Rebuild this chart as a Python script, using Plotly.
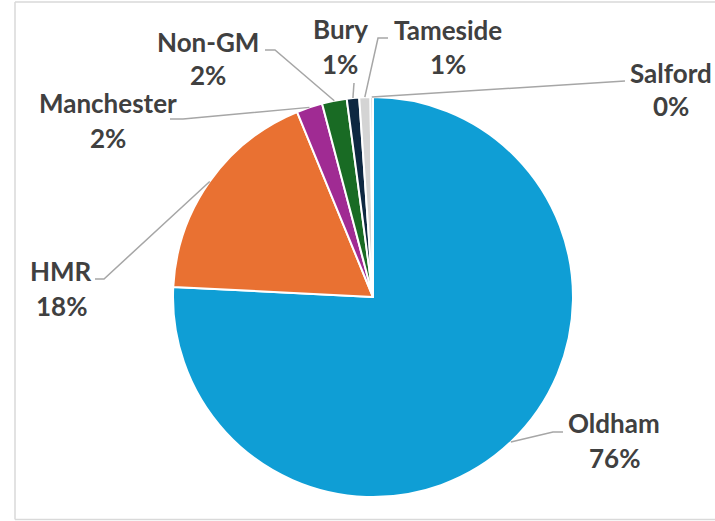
import math
import plotly.graph_objects as go

# Share of records by area (percent)
areas = ["Oldham", "HMR", "Manchester", "Non-GM", "Bury", "Tameside", "Salford"]
shares = [75.8, 18.0, 2.1, 2.0, 1.0, 0.9, 0.2]
colours = ["#0F9ED5", "#E97132", "#A02B93", "#196B24", "#0E2841", "#D4D4D4", "#BFBFBF"]

W, H = 715, 521
CX, CY, R = 373, 297, 200  # pie centre and radius in pixels

# label placement (pixel centre x, name baseline, percent baseline)
label_pos = {
    "Oldham": (614, 432, 467),
    "HMR": (61, 280, 315),
    "Manchester": (108, 112, 147),
    "Non-GM": (208, 51, 84),
    "Bury": (340, 38, 73),
    "Tameside": (448, 39, 73),
    "Salford": (671, 82, 115),
}
# leader line bend points after leaving the slice edge
leader_path = {
    "Oldham": [(553, 432), (563, 432)],
    "HMR": [(104, 279), (95, 279)],
    "Manchester": [(183, 119), (170, 119)],
    "Non-GM": [(275, 50), (265, 50)],
    "Bury": [(354, 83)],
    "Tameside": [(378, 38), (388, 38)],
    "Salford": [(625, 81)],
}


def px(x):
    return x / W


def py(y):
    return 1 - y / H


fig = go.Figure(
    go.Pie(
        labels=areas,
        values=shares,
        sort=False,
        direction="clockwise",
        rotation=0,
        marker=dict(colors=colours, line=dict(color="white", width=2)),
        textinfo="none",
        hoverinfo="label+percent",
        domain=dict(x=[px(CX - R), px(CX + R)], y=[py(CY + R), py(CY - R)]),
        showlegend=False,
    )
)

total = sum(shares)
shapes = []
annotations = []
cum = 0.0
font = dict(family="Lato", size=26, color="#404040")
for name, v in zip(areas, shares):
    mid = (cum + v / 2) / total * 2 * math.pi
    cum += v
    sx = CX + R * math.sin(mid)
    sy = CY - R * math.cos(mid)
    pts = [(sx, sy)] + leader_path[name]
    d = "M " + " L ".join(f"{px(x):.5f},{py(y):.5f}" for x, y in pts)
    shapes.append(dict(type="path", xref="paper", yref="paper", path=d,
                       line=dict(color="#A6A6A6", width=1.5)))
    lx, nb, pb = label_pos[name]
    pct = round(v / total * 100)
    annotations.append(dict(x=px(lx), y=py(nb - 9), xref="paper", yref="paper",
                            text=f"<b>{name}</b>", showarrow=False, font=font,
                            xanchor="center", yanchor="middle"))
    annotations.append(dict(x=px(lx), y=py(pb - 9), xref="paper", yref="paper",
                            text=f"<b>{pct}%</b>", showarrow=False, font=font,
                            xanchor="center", yanchor="middle"))

# chart area frame
frame = dict(color="#D9D9D9", width=1.5)
shapes.append(dict(type="line", xref="paper", yref="paper", x0=px(15), x1=px(15),
                   y0=py(2), y1=py(519.5), line=frame))
shapes.append(dict(type="line", xref="paper", yref="paper", x0=px(15), x1=1.01,
                   y0=py(2), y1=py(2), line=frame))
shapes.append(dict(type="line", xref="paper", yref="paper", x0=px(15), x1=1.01,
                   y0=py(519.5), y1=py(519.5), line=frame))

fig.update_layout(
    width=W, height=H,
    margin=dict(l=0, r=0, t=0, b=0),
    paper_bgcolor="white",
    plot_bgcolor="white",
    shapes=shapes,
    annotations=annotations,
)

fig.write_html("out.html")
